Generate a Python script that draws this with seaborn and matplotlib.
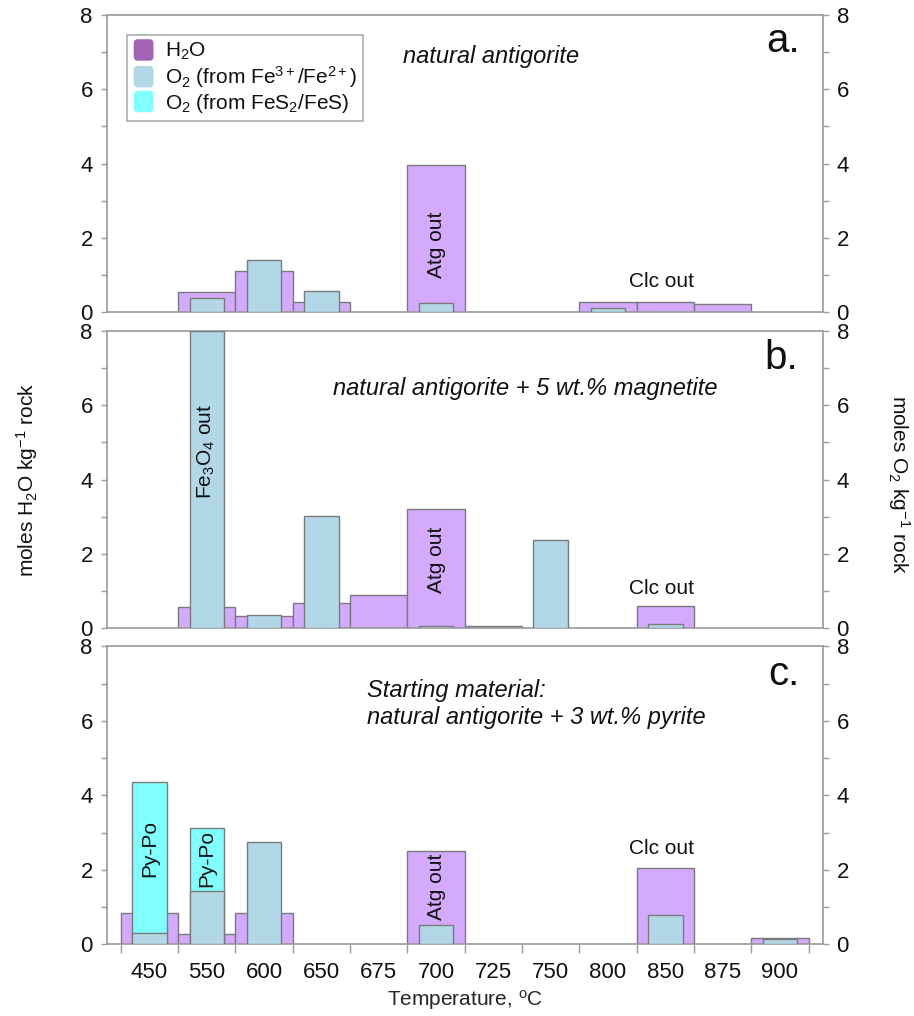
import numpy as np
import pandas as pd
import matplotlib
matplotlib.use("Agg")
import matplotlib.pyplot as plt
import seaborn as sns
from matplotlib.patches import Patch, FancyBboxPatch
from matplotlib.legend_handler import HandlerPatch
from matplotlib.ticker import FixedLocator, FixedFormatter, NullFormatter, MultipleLocator

# ---------------------------------------------------------------- data
temps = ["450", "550", "600", "650", "675", "700", "725", "750", "800", "850", "875", "900"]
nan = np.nan

# a. natural antigorite
h2o_a = [nan, 0.55, 1.11, 0.28, nan, 3.96, nan, nan, 0.27, 0.27, 0.21, nan]
o2fe_a = [nan, 0.38, 1.41, 0.56, nan, 0.24, nan, nan, 0.12, nan, nan, nan]

# b. natural antigorite + 5 wt.% magnetite
h2o_b = [nan, 0.58, 0.34, 0.67, 0.89, 3.21, 0.05, nan, 0.02, 0.61, nan, nan]
o2fe_b = [nan, 8.0, 0.36, 3.01, nan, 0.06, nan, 2.37, nan, 0.12, nan, nan]

# c. natural antigorite + 3 wt.% pyrite
h2o_c = [0.83, 0.28, 0.83, nan, nan, 2.50, nan, nan, nan, 2.05, nan, 0.16]
o2fe_c = [0.30, 1.44, 2.75, nan, nan, 0.52, nan, nan, nan, 0.79, nan, 0.14]
o2fes_c = [4.07, 1.67, nan, nan, nan, nan, nan, nan, nan, nan, nan, nan]

panel_titles = ["natural antigorite",
                "natural antigorite + 5 wt.% magnetite",
                "Starting material:\nnatural antigorite + 3 wt.% pyrite"]
panel_letters = ["a.", "b.", "c."]

# bar annotations: (text, x position in category units, y value, rotation)
notes_a = [("Atg out", 5, 1.81, 90), ("Clc out", 8.93, 0.82, 0)]
notes_b = [(r"Fe$_3$O$_4$ out", 1, 4.77, 90), ("Atg out", 5, 1.84, 90), ("Clc out", 8.93, 1.08, 0)]
notes_c = [("Py-Po", 0, 2.58, 90), ("Py-Po", 1, 2.29, 90), ("Atg out", 5, 1.53, 90),
           ("Clc out", 8.93, 2.58, 0)]

# ---------------------------------------------------------------- style
PURPLE = "#d4aaff"
PURPLE_KEY = "#a462b4"
BLUE = "#b2d8e8"
CYAN = "#80ffff"
EDGE = "#7a7a7a"
GRAY = "#9a9a9a"
TXT = "#111111"

sns.set_style("white")
plt.rcParams["font.family"] = ["Liberation Sans", "DejaVu Sans"]
plt.rcParams["mathtext.fontset"] = "custom"
plt.rcParams["mathtext.rm"] = "Liberation Sans"
plt.rcParams["mathtext.it"] = "Liberation Sans:italic"
plt.rcParams["mathtext.bf"] = "Liberation Sans:bold"
plt.rcParams["text.color"] = TXT

W, H = 914, 1016
fig = plt.figure(figsize=(W / 100, H / 100), dpi=100)

x0, x1 = 106.7, 822.7
boxes = [(14.7, 312.3), (331.0, 628.3), (646.3, 944.3)]
axes = [fig.add_axes([x0 / W, 1 - b / H, (x1 - x0) / W, (b - t) / H]) for t, b in boxes]


def bars(ax, values, width, color, z):
    df = pd.DataFrame({"T": temps, "v": values}).dropna()
    sns.barplot(data=df, x="T", y="v", order=temps, width=width, color=color,
                saturation=1, edgecolor=EDGE, linewidth=1.0, errorbar=None,
                ax=ax, zorder=z)


series = [(h2o_a, o2fe_a, None), (h2o_b, o2fe_b, None), (h2o_c, o2fe_c, o2fes_c)]
notes = [notes_a, notes_b, notes_c]

for i, (ax, (h2o, o2fe, o2fes)) in enumerate(zip(axes, series)):
    bars(ax, h2o, 1.0, PURPLE, 2)
    if o2fes is not None:
        total = [a + b if not np.isnan(b) else nan for a, b in zip(o2fe, o2fes)]
        bars(ax, total, 0.6, CYAN, 3)
    bars(ax, o2fe, 0.6, BLUE, 4)

    ax.set_xlim(-0.745, 11.745)
    ax.set_ylim(0, 8)
    ax.set_xlabel("")
    ax.set_ylabel("")

    ax.yaxis.set_major_locator(FixedLocator([0, 2, 4, 6, 8]))
    ax.yaxis.set_minor_locator(MultipleLocator(1))
    ax.tick_params(axis="y", which="both", direction="out", length=4.5, width=1.0,
                   color=GRAY, left=True, right=True, labelleft=True, labelright=True,
                   labelsize=16, labelcolor=TXT, pad=5.5)

    if i < 2:
        ax.xaxis.set_major_locator(FixedLocator([]))
        ax.xaxis.set_minor_locator(FixedLocator([]))
        ax.tick_params(axis="x", which="both", bottom=False, labelbottom=False)
    else:
        ax.xaxis.set_major_locator(FixedLocator(np.arange(-0.5, 12, 1)))
        ax.xaxis.set_major_formatter(NullFormatter())
        ax.xaxis.set_minor_locator(FixedLocator(np.arange(12)))
        ax.xaxis.set_minor_formatter(FixedFormatter(temps))
        ax.tick_params(axis="x", which="major", direction="out", length=6.5, width=1.0,
                       color=GRAY, bottom=True)
        ax.tick_params(axis="x", which="minor", length=0, labelsize=16, labelcolor=TXT,
                       pad=12.5, bottom=True)

    for sp in ax.spines.values():
        sp.set_visible(True)
        sp.set_color(GRAY)
        sp.set_linewidth(1.2)

    for txt, xx, yy, rot in notes[i]:
        ax.text(xx, yy, txt, rotation=rot, ha="center", va="center", fontsize=15, zorder=6)

# panel titles and letters
ax_a, ax_b, ax_c = axes
ax_a.text(0.537, 0.858, panel_titles[0], transform=ax_a.transAxes, ha="center",
          va="center", fontsize=17, style="italic")
ax_b.text(0.585, 0.807, panel_titles[1], transform=ax_b.transAxes, ha="center",
          va="center", fontsize=17, style="italic")
ax_c.text(0.363, 0.807, panel_titles[2], transform=ax_c.transAxes, ha="left",
          va="center", fontsize=17, style="italic", linespacing=1.2)

for ax, letter, xr, yb in zip(axes, panel_letters, [0.968, 0.965, 0.968], [0.876, 0.871, 0.870]):
    ax.text(xr, yb, letter, transform=ax.transAxes, ha="right", va="baseline", fontsize=29)


# legend with rounded colour keys
class RoundKey(HandlerPatch):
    def create_artists(self, legend, orig_handle, xdescent, ydescent, width, height,
                       fontsize, trans):
        p = FancyBboxPatch((-xdescent, -ydescent - 2), width, height + 4,
                           boxstyle="round,pad=0,rounding_size=3",
                           facecolor=orig_handle.get_facecolor(), edgecolor="none",
                           transform=trans)
        return [p]


handles = [Patch(facecolor=PURPLE_KEY), Patch(facecolor=BLUE), Patch(facecolor=CYAN)]
labels = [r"H$_2$O", r"O$_2$ (from Fe$^{3+}$/Fe$^{2+}$)", r"O$_2$ (from FeS$_2$/FeS)"]
leg = ax_a.legend(handles, labels, loc="upper left", bbox_to_anchor=(0.029, 0.932),
                  borderaxespad=0, fontsize=15, frameon=True, fancybox=False,
                  handlelength=0.95, handleheight=0.8, handletextpad=0.55,
                  labelspacing=0.08, borderpad=0.3,
                  handler_map={Patch: RoundKey()})
leg.get_frame().set_edgecolor(GRAY)
leg.get_frame().set_linewidth(1.2)
leg.set_zorder(10)

# axis labels
ax_c.set_xlabel(r"Temperature, $^{\mathrm{o}}$C", fontsize=15, labelpad=4)
fig.text(27.5 / W, 1 - 480 / H, r"moles H$_2$O kg$^{-1}$ rock", rotation=90,
         ha="center", va="center", fontsize=15)
fig.text(899 / W, 1 - 485 / H, r"moles O$_2$ kg$^{-1}$ rock", rotation=270,
         ha="center", va="center", fontsize=15)

fig.savefig("out.png", dpi=100, facecolor="white")
